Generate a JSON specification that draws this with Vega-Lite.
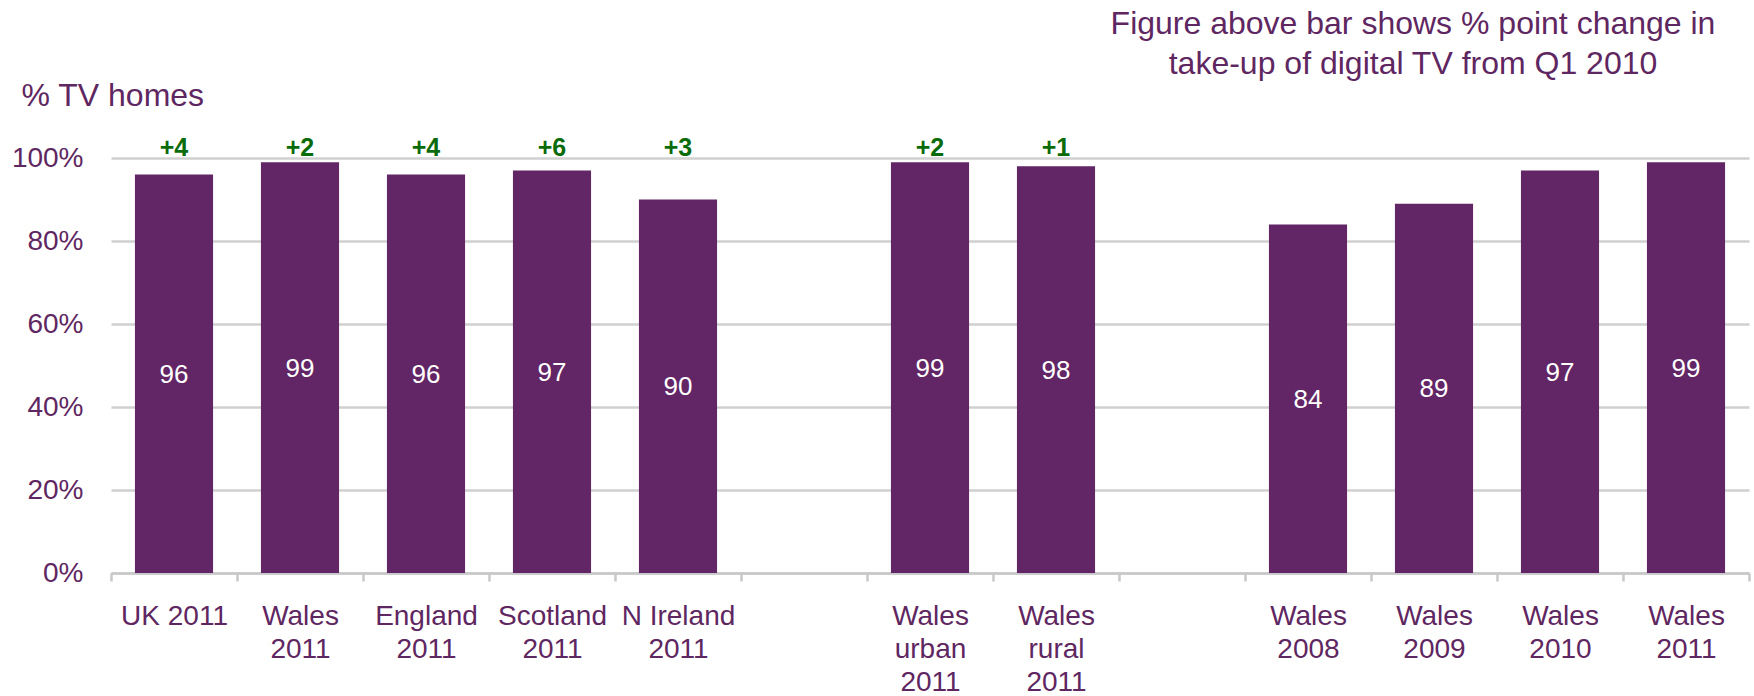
{
  "$schema": "https://vega.github.io/schema/vega-lite/v6.json",
  "autosize": {"type": "none"},
  "padding": {"left": 111, "top": 158, "right": 5, "bottom": 123},
  "width": 1638,
  "height": 415,
  "background": "white",
  "config": {
    "font": "Liberation Sans",
    "view": {"stroke": null}
  },
  "title": {
    "text": ["Figure above bar shows % point change in", "take-up of digital TV from Q1 2010"],
    "anchor": "end",
    "align": "center",
    "frame": "group",
    "dx": -336,
    "offset": -2,
    "fontSize": 32,
    "fontWeight": "normal",
    "lineHeight": 40,
    "color": "#5f2761"
  },
  "data": {
    "values": [
      {"key": "UK 2011", "value": 96, "change": "+4"},
      {"key": "Wales|2011", "value": 99, "change": "+2"},
      {"key": "England|2011", "value": 96, "change": "+4"},
      {"key": "Scotland|2011", "value": 97, "change": "+6"},
      {"key": "N Ireland|2011", "value": 90, "change": "+3"},
      {"key": "Wales|urban|2011", "value": 99, "change": "+2"},
      {"key": "Wales|rural|2011", "value": 98, "change": "+1"},
      {"key": "Wales|2008", "value": 84, "change": ""},
      {"key": "Wales|2009", "value": 89, "change": ""},
      {"key": "Wales|2010", "value": 97, "change": ""},
      {"key": "Wales|2011 ", "value": 99, "change": ""}
    ]
  },
  "encoding": {
    "x": {
      "field": "key",
      "type": "nominal",
      "sort": null,
      "scale": {
        "domain": ["UK 2011", "Wales|2011", "England|2011", "Scotland|2011", "N Ireland|2011", "gap1", "Wales|urban|2011", "Wales|rural|2011", "gap2", "Wales|2008", "Wales|2009", "Wales|2010", "Wales|2011 "],
        "paddingInner": 0,
        "paddingOuter": 0
      },
      "axis": {
        "title": null,
        "labelAngle": 0,
        "labelExpr": "indexof(datum.label, 'gap') == 0 ? '' : split(datum.label, '|')",
        "labelFontSize": 28,
        "labelColor": "#5f2761",
        "labelLineHeight": 33,
        "labelBaseline": "top",
        "labelPadding": 21,
        "labelLimit": 300,
        "tickBand": "extent",
        "tickSize": 8,
        "tickWidth": 2.5,
        "tickColor": "#c8c8c8",
        "domainColor": "#c8c8c8",
        "domainWidth": 2.5,
        "grid": false
      }
    }
  },
  "layer": [
    {
      "mark": {"type": "bar", "color": "#622565", "width": {"band": 0.62}},
      "encoding": {
        "y": {
          "field": "value",
          "type": "quantitative",
          "scale": {"domain": [0, 100], "nice": false},
          "axis": {
            "values": [0, 20, 40, 60, 80, 100],
            "labelExpr": "datum.value + '%'",
            "labelFontSize": 28,
            "labelColor": "#5f2761",
            "labelPadding": 28,
            "ticks": false,
            "domain": false,
            "gridColor": "#d0d0d0",
            "gridWidth": 2.5,
            "title": "% TV homes",
            "titleAngle": 0,
            "titleAlign": "left",
            "titleBaseline": "middle",
            "titleX": -90,
            "titleY": -63,
            "titleFontSize": 32,
            "titleFontWeight": "normal",
            "titleColor": "#5f2761"
          }
        }
      }
    },
    {
      "mark": {"type": "text", "color": "white", "fontSize": 26, "baseline": "middle", "dy": 1},
      "encoding": {
        "y": {
          "field": "value",
          "type": "quantitative",
          "scale": {"domain": [0, 200], "nice": false},
          "axis": null
        },
        "text": {"field": "value", "type": "quantitative"}
      }
    },
    {
      "mark": {"type": "text", "color": "#0a6b0a", "fontSize": 25, "fontWeight": "bold", "baseline": "alphabetic", "dy": -2},
      "encoding": {
        "y": {"datum": 100, "type": "quantitative", "scale": {"domain": [0, 100], "nice": false}, "axis": null},
        "text": {"field": "change"}
      }
    }
  ],
  "resolve": {"scale": {"y": "independent"}}
}
